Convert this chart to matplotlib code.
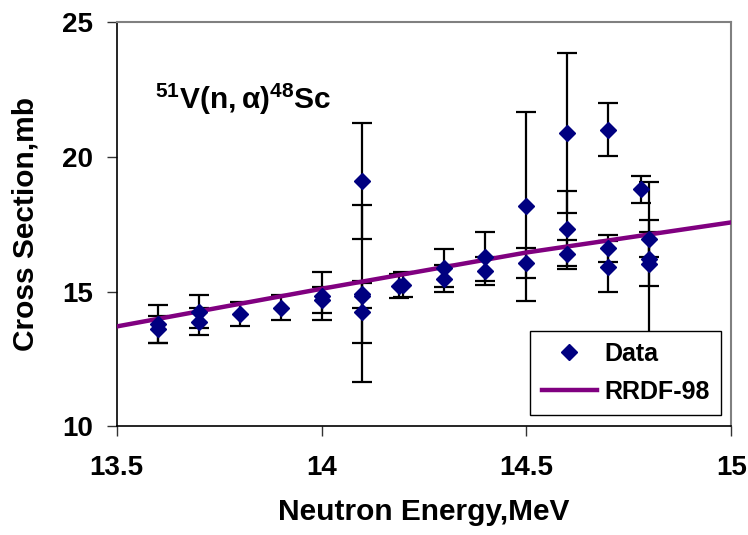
import matplotlib
matplotlib.use("Agg")
import matplotlib.pyplot as plt

energy = [13.6, 13.6, 13.7, 13.7, 13.8, 13.9, 14.0, 14.0,
          14.1, 14.1, 14.1, 14.1, 14.19, 14.2, 14.3, 14.3,
          14.4, 14.4, 14.5, 14.5, 14.6, 14.6, 14.6,
          14.7, 14.7, 14.7, 14.78, 14.8, 14.8, 14.8]
xs = [13.8, 13.6, 14.25, 13.88, 14.15, 14.4, 14.83, 14.68,
      19.12, 14.92, 14.85, 14.23, 15.2, 15.26, 15.88, 15.48,
      16.3, 15.78, 18.16, 16.07, 20.88, 17.33, 16.38,
      21.02, 16.6, 15.92, 18.8, 16.97, 16.2, 16.03]
err = [0.7, 0.5, 0.62, 0.5, 0.45, 0.47, 0.88, 0.47,
       2.15, 3.3, 0.45, 1.15, 0.45, 0.48, 0.71, 0.5,
       0.9, 0.52, 3.52, 0.55, 2.97, 1.4, 0.53,
       0.98, 0.5, 0.95, 0.5, 0.7, 1.0, 3.05]

rrdf_energy = [13.5, 14.0, 14.5, 15.0]
rrdf_xs = [13.7, 15.1, 16.45, 17.57]

xticks = [13.5, 14, 14.5, 15]
xticklabels = ["13.5", "14", "14.5", "15"]
yticks = [10, 15, 20, 25]

plt.rcParams['font.family'] = ['Liberation Sans', 'DejaVu Sans']
plt.rcParams['mathtext.fontset'] = 'custom'
plt.rcParams['mathtext.rm'] = 'Liberation Sans:bold'
plt.rcParams['mathtext.bf'] = 'Liberation Sans:bold'
plt.rcParams['mathtext.it'] = 'Liberation Sans:bold'

fig = plt.figure(figsize=(7.48, 5.35), dpi=100)
ax = fig.add_axes([0.1559, 0.2037, 0.8218, 0.7543])

ax.errorbar(energy, xs, yerr=err, fmt='none', ecolor='black',
            elinewidth=1.6, capsize=7, capthick=1.6, zorder=2)
ax.plot(rrdf_energy, rrdf_xs, color='#800080', lw=3.2, zorder=3,
        label='RRDF-98')
ax.plot(energy, xs, linestyle='none', marker='D', markersize=8.5,
        color='#000080', zorder=4, label='Data')

ax.set_xlim(13.5, 15)
ax.set_ylim(10, 25)
ax.set_xticks(xticks)
ax.set_xticklabels(xticklabels)
ax.set_yticks(yticks)

for lab in ax.get_xticklabels() + ax.get_yticklabels():
    lab.set_fontweight('bold')
    lab.set_fontsize(20)

ax.tick_params(axis='both', direction='out', length=7, width=1, color='#333333')
ax.tick_params(axis='x', pad=14)
ax.tick_params(axis='y', pad=10)

for s in ['left', 'bottom']:
    ax.spines[s].set_color('black')
    ax.spines[s].set_linewidth(1.2)
for s in ['top', 'right']:
    ax.spines[s].set_color('#808080')
    ax.spines[s].set_linewidth(1.5)

ax.set_xlabel('Neutron Energy,MeV', fontsize=21.5, fontweight='bold', labelpad=12)
ax.set_ylabel('Cross Section,mb', fontsize=21.5, fontweight='bold', labelpad=16)

ax.text(0.063, 0.81, r'$\mathbf{^{51}V(n,\alpha)^{48}Sc}$', transform=ax.transAxes,
        fontsize=21.5, ha='left', va='center')

handles, labels = ax.get_legend_handles_labels()
order = [1, 0]
leg = ax.legend([handles[i] for i in order], [labels[i] for i in order],
                loc='lower right', bbox_to_anchor=(0.983, 0.027),
                borderaxespad=0,
                fancybox=False, framealpha=1, edgecolor='black',
                prop={'weight': 'bold', 'size': 18}, handlelength=2.2,
                borderpad=0.45, labelspacing=0.55, handletextpad=0.3)
leg.get_frame().set_linewidth(1.0)

fig.savefig('out.png', dpi=100)
